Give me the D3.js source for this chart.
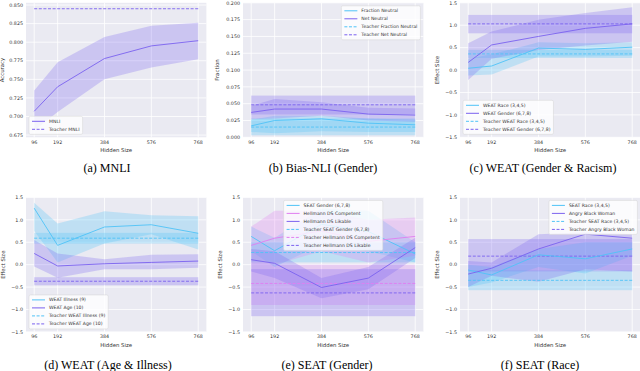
<!DOCTYPE html>
<html>
<head>
<meta charset="utf-8">
<script src="https://cdn.jsdelivr.net/npm/d3@7"></script>
<style>
  body { margin: 0; background: #fff; }
  text { font-family: "DejaVu Sans", sans-serif; }
</style>
</head>
<body>
<div id="chart"></div>
<script>
// hidden sizes on the x axis
var hidden = [96, 192, 384, 576, 768];

// (a) MNLI
var mnliMean = [0.707, 0.740, 0.778, 0.795, 0.802];
var mnliLow = [0.681, 0.706, 0.750, 0.766, 0.777];
var mnliHigh = [0.735, 0.773, 0.807, 0.822, 0.826];
var teacherMnli = [0.845];

// (b) Bias-NLI
var fracMean = [0.017, 0.025, 0.0275, 0.021, 0.0186];
var fracLow = [0.008, 0.006, 0.009, 0.008, 0.008];
var fracHigh = [0.026, 0.032, 0.032, 0.028, 0.026];
var netMean = [0.037, 0.042, 0.042, 0.0345, 0.033];
var netLow = [0.027, 0.028, 0.032, 0.025, 0.023];
var netHigh = [0.047, 0.057, 0.052, 0.044, 0.043];
var teacherFrac = [0.0152, 0.003, 0.028];
var teacherNet = [0.0483, 0.034, 0.062];

// (c) WEAT gender & race
var raceMean = [0.04, 0.09, 0.49, 0.46, 0.51];
var raceLow = [-0.12, -0.10, 0.30, 0.30, 0.32];
var raceHigh = [0.25, 0.35, 0.62, 0.60, 0.62];
var genderMean = [0.17, 0.56, 0.75, 0.93, 1.03];
var genderLow = [-0.22, 0.25, 0.45, 0.55, 0.63];
var genderHigh = [0.60, 0.86, 1.12, 1.27, 1.40];
var teacherRace = [0.36, 0.27, 0.45];
var teacherGender = [1.03, 0.82, 1.23];

// (d) WEAT age & illness
var illMean = [1.26, 0.43, 0.84, 0.89, 0.70];
var illLow = [0.75, 0.05, 0.47, 0.68, 0.34];
var illHigh = [1.38, 0.92, 1.19, 1.10, 1.08];
var ageMean = [0.25, -0.03, 0.02, 0.05, 0.08];
var ageLow = [-0.04, -0.29, -0.10, -0.10, -0.07];
var ageHigh = [0.55, 0.25, 0.12, 0.22, 0.23];
var teacherIll = [0.59, 0.47, 0.71];
var teacherAge = [-0.37, -0.46, -0.28];

// (e) SEAT gender
var seatGMean = [0.63, 0.31, 0.90, 0.74, 0.24];
var seatGLow = [0.30, -0.05, 0.45, 0.30, 0.05];
var seatGHigh = [0.85, 0.60, 1.25, 1.20, 0.50];
var compMean = [0.43, 0.59, 0.75, 0.52, 0.63];
var compLow = [0.00, 0.00, 0.30, 0.05, 0.20];
var compHigh = [0.85, 1.20, 1.20, 1.00, 1.05];
var likMean = [0.11, 0.03, -0.51, -0.30, 0.38];
var likLow = [-0.15, -0.30, -0.75, -0.55, 0.15];
var likHigh = [0.35, 0.30, -0.30, -0.05, 0.60];
var teacherSeatG = [0.27, 0.05, 0.50];
var teacherComp = [-0.42, -0.90, 0.00];
var teacherLik = [-0.63, -1.15, -0.10];

// (f) SEAT race
var seatRMean = [-0.12, -0.23, 0.22, 0.13, 0.35];
var seatRLow = [-0.50, -0.40, -0.05, -0.20, 0.20];
var seatRHigh = [0.00, -0.05, 0.35, 0.50, 0.50];
var abwMean = [-0.21, -0.08, 0.35, 0.68, 0.59];
var abwLow = [-0.50, -0.25, -0.38, -0.10, -0.15];
var abwHigh = [0.08, 0.05, 0.68, 0.72, 0.68];
var teacherSeatR = [-0.35, -0.57, -0.13];
var teacherAbw = [0.19, -0.15, 0.57];

var effectTicks = [-1.5, -1.0, -0.5, 0.0, 0.5, 1.0, 1.5];

var PURPLE = "#7b62ef", CYAN = "#4fc3f7", VIOLET = "#e07ef0";

var width = 640, height = 371;
var svg = d3.select("#chart").append("svg")
  .attr("width", width).attr("height", height);

var fmtMinus = function(f) { return function(v) { return f(v).replace("-", "\u2212"); }; };

function drawPanel(p) {
  var left = p.left, top = p.top, w = 180.4, h = 134.5;
  var x = d3.scaleLinear().domain([62.4, 801.6]).range([left, left + w]);
  var y = d3.scaleLinear().domain(p.ylim).range([top + h, top]);
  var g = svg.append("g");

  g.append("rect").attr("x", left).attr("y", top).attr("width", w).attr("height", h)
    .attr("fill", "#eaeaf2");

  // grid
  g.selectAll(".vg").data(hidden).enter().append("line")
    .attr("x1", function(d) { return x(d); }).attr("x2", function(d) { return x(d); })
    .attr("y1", top).attr("y2", top + h)
    .attr("stroke", "#fff").attr("stroke-width", 0.8);
  g.selectAll(".hg").data(p.yticks).enter().append("line")
    .attr("y1", function(d) { return y(d); }).attr("y2", function(d) { return y(d); })
    .attr("x1", left).attr("x2", left + w)
    .attr("stroke", "#fff").attr("stroke-width", 0.8);

  var area = d3.area()
    .x(function(d) { return x(d.x); })
    .y0(function(d) { return y(d.lo); })
    .y1(function(d) { return y(d.hi); });
  var line = d3.line()
    .x(function(d) { return x(d.x); })
    .y(function(d) { return y(d.v); });

  // teacher bands
  p.teachers.forEach(function(t) {
    if (t.data.length < 3) return;
    g.append("rect")
      .attr("x", x(96)).attr("width", x(768) - x(96))
      .attr("y", y(t.data[2])).attr("height", y(t.data[1]) - y(t.data[2]))
      .attr("fill", t.color).attr("fill-opacity", 0.28);
  });
  // student bands
  p.series.forEach(function(s) {
    var pts = hidden.map(function(hx, i) { return {x: hx, lo: s.lo[i], hi: s.hi[i]}; });
    g.append("path").datum(pts).attr("d", area)
      .attr("fill", s.color).attr("fill-opacity", 0.27);
  });
  // teacher lines
  p.teachers.forEach(function(t) {
    g.append("line")
      .attr("x1", x(96)).attr("x2", x(768))
      .attr("y1", y(t.data[0])).attr("y2", y(t.data[0]))
      .attr("stroke", t.color).attr("stroke-width", 0.9)
      .attr("stroke-dasharray", "3,1.6");
  });
  // student lines
  p.series.forEach(function(s) {
    var pts = hidden.map(function(hx, i) { return {x: hx, v: s.mean[i]}; });
    g.append("path").datum(pts).attr("d", line)
      .attr("fill", "none").attr("stroke", s.color).attr("stroke-width", 0.9);
  });

  // ticks
  g.selectAll(".xt").data(hidden).enter().append("text")
    .attr("x", function(d) { return x(d); }).attr("y", top + h + 6.5)
    .attr("text-anchor", "middle").attr("font-size", 4.8).attr("fill", "#333")
    .text(function(d) { return d; });
  g.selectAll(".yt").data(p.yticks).enter().append("text")
    .attr("x", left - 3).attr("y", function(d) { return y(d) + 1.7; })
    .attr("text-anchor", "end").attr("font-size", 4.8).attr("fill", "#333")
    .text(p.fmt);

  g.append("text").attr("x", left + w / 2).attr("y", top + h + 15)
    .attr("text-anchor", "middle").attr("font-size", 5.4).attr("fill", "#333")
    .text("Hidden Size");
  g.append("text")
    .attr("transform", "translate(" + (left + p.ylabOff) + "," + (top + h / 2) + ") rotate(-90)")
    .attr("text-anchor", "middle").attr("font-size", 5.4).attr("fill", "#333")
    .text(p.ylabel);

  // legend
  var items = p.series.map(function(s) { return {label: s.label, color: s.color, dash: false}; })
    .concat(p.teachers.map(function(t) { return {label: t.label, color: t.color, dash: true}; }));
  var lg = g.append("g");
  var box = lg.append("rect");
  var rowH = 8;
  var maxW = 0;
  items.forEach(function(it, i) {
    var ty = 6.5 + i * rowH;
    lg.append("line").attr("x1", 3).attr("x2", 16).attr("y1", ty - 1.5).attr("y2", ty - 1.5)
      .attr("stroke", it.color).attr("stroke-width", 1)
      .attr("stroke-dasharray", it.dash ? "3,1.6" : null);
    var t = lg.append("text").attr("x", 20).attr("y", ty).attr("font-size", 4.6)
      .attr("fill", "#333").text(it.label);
    maxW = Math.max(maxW, t.node().getComputedTextLength());
  });
  var bw = maxW + 23, bh = items.length * rowH + 2;
  box.attr("width", bw).attr("height", bh).attr("rx", 1.5)
    .attr("fill", "#fff").attr("fill-opacity", 0.8)
    .attr("stroke", "#d5d5d5").attr("stroke-width", 0.5);
  var lx, ly;
  if (p.legend === "lower left") { lx = left + 3; ly = top + h - bh - 3; }
  else if (p.legend === "upper right") { lx = left + w - bw - 3; ly = top + 3; }
  else { lx = left + w / 2 - bw / 2; ly = top + 3; }
  lg.attr("transform", "translate(" + lx + "," + ly + ")");

  // caption
  svg.append("text").attr("x", p.capX).attr("y", p.capY)
    .attr("text-anchor", "middle").attr("font-size", 12)
    .style("font-family", "'Liberation Serif', 'Times New Roman', serif")
    .attr("fill", "#000").text(p.caption);
}

var row1 = 2.8, row2 = 197.4;
var col1 = 26, col2 = 243, col3 = 460;

drawPanel({
  left: col1, top: row1, ylim: [0.672, 0.853],
  yticks: [0.675, 0.7, 0.725, 0.75, 0.775, 0.8, 0.825, 0.85], fmt: d3.format(".3f"),
  ylabel: "Accuracy", ylabOff: -22,
  series: [{label: "MNLI", color: PURPLE, mean: mnliMean, lo: mnliLow, hi: mnliHigh}],
  teachers: [{label: "Teacher MNLI", color: PURPLE, data: teacherMnli}],
  legend: "lower left", caption: "(a) MNLI", capX: 107, capY: 172
});

drawPanel({
  left: col2, top: row1, ylim: [0, 0.2],
  yticks: [0, 0.025, 0.05, 0.075, 0.1, 0.125, 0.15, 0.175, 0.2], fmt: d3.format(".3f"),
  ylabel: "Fraction", ylabOff: -24,
  series: [
    {label: "Fraction Neutral", color: CYAN, mean: fracMean, lo: fracLow, hi: fracHigh},
    {label: "Net Neutral", color: PURPLE, mean: netMean, lo: netLow, hi: netHigh}
  ],
  teachers: [
    {label: "Teacher Fraction Neutral", color: CYAN, data: teacherFrac},
    {label: "Teacher Net Neutral", color: PURPLE, data: teacherNet}
  ],
  legend: "upper right", caption: "(b) Bias-NLI (Gender)", capX: 323, capY: 172
});

drawPanel({
  left: col3, top: row1, ylim: [-1.5, 1.5],
  yticks: effectTicks, fmt: fmtMinus(d3.format(".1f")),
  ylabel: "Effect Size", ylabOff: -21,
  series: [
    {label: "WEAT Race (3,4,5)", color: CYAN, mean: raceMean, lo: raceLow, hi: raceHigh},
    {label: "WEAT Gender (6,7,8)", color: PURPLE, mean: genderMean, lo: genderLow, hi: genderHigh}
  ],
  teachers: [
    {label: "Teacher WEAT Race (3,4,5)", color: CYAN, data: teacherRace},
    {label: "Teacher WEAT Gender (6,7,8)", color: PURPLE, data: teacherGender}
  ],
  legend: "lower left", caption: "(c) WEAT (Gender & Racism)", capX: 543, capY: 172
});

drawPanel({
  left: col1, top: row2, ylim: [-1.5, 1.5],
  yticks: effectTicks, fmt: fmtMinus(d3.format(".1f")),
  ylabel: "Effect Size", ylabOff: -21,
  series: [
    {label: "WEAT Illness (9)", color: CYAN, mean: illMean, lo: illLow, hi: illHigh},
    {label: "WEAT Age (10)", color: PURPLE, mean: ageMean, lo: ageLow, hi: ageHigh}
  ],
  teachers: [
    {label: "Teacher WEAT Illness (9)", color: CYAN, data: teacherIll},
    {label: "Teacher WEAT Age (10)", color: PURPLE, data: teacherAge}
  ],
  legend: "lower left", caption: "(d) WEAT (Age & Illness)", capX: 108, capY: 369
});

drawPanel({
  left: col2, top: row2, ylim: [-1.5, 1.5],
  yticks: effectTicks, fmt: fmtMinus(d3.format(".1f")),
  ylabel: "Effect Size", ylabOff: -21,
  series: [
    {label: "SEAT Gender (6,7,8)", color: CYAN, mean: seatGMean, lo: seatGLow, hi: seatGHigh},
    {label: "Hellmann DS Competent", color: VIOLET, mean: compMean, lo: compLow, hi: compHigh},
    {label: "Hellmann DS Likable", color: PURPLE, mean: likMean, lo: likLow, hi: likHigh}
  ],
  teachers: [
    {label: "Teacher SEAT Gender (6,7,8)", color: CYAN, data: teacherSeatG},
    {label: "Teacher Hellmann DS Competent", color: VIOLET, data: teacherComp},
    {label: "Teacher Hellmann DS Likable", color: PURPLE, data: teacherLik}
  ],
  legend: "upper center", caption: "(e) SEAT (Gender)", capX: 327, capY: 369
});

drawPanel({
  left: col3, top: row2, ylim: [-1.5, 1.5],
  yticks: effectTicks, fmt: fmtMinus(d3.format(".1f")),
  ylabel: "Effect Size", ylabOff: -21,
  series: [
    {label: "SEAT Race (3,4,5)", color: CYAN, mean: seatRMean, lo: seatRLow, hi: seatRHigh},
    {label: "Angry Black Woman", color: PURPLE, mean: abwMean, lo: abwLow, hi: abwHigh}
  ],
  teachers: [
    {label: "Teacher SEAT Race (3,4,5)", color: CYAN, data: teacherSeatR},
    {label: "Teacher Angry Black Woman", color: PURPLE, data: teacherAbw}
  ],
  legend: "upper right", caption: "(f) SEAT (Race)", capX: 540, capY: 369
});
</script>
</body>
</html>
